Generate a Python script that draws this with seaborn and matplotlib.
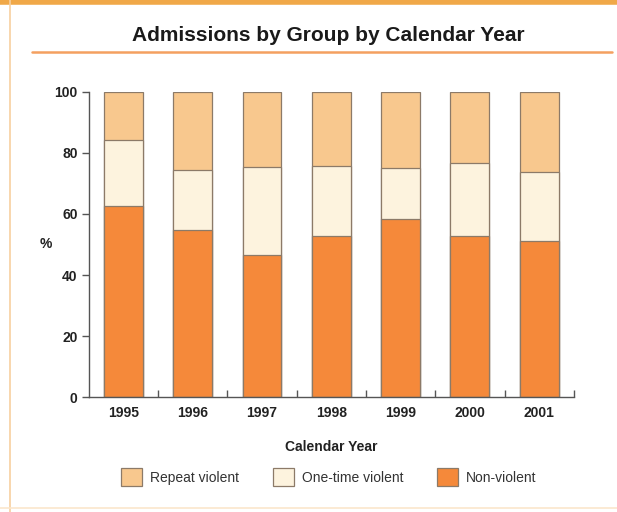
import matplotlib
matplotlib.use("Agg")
import matplotlib.pyplot as plt
import seaborn as sns
import pandas as pd
import numpy as np
from matplotlib.patches import Patch
from matplotlib.lines import Line2D

years = ["1995", "1996", "1997", "1998", "1999", "2000", "2001"]
non_violent = [62.7, 54.8, 46.6, 52.9, 58.3, 52.8, 51.2]
one_time_violent = [21.4, 19.5, 28.7, 22.8, 16.6, 23.8, 22.5]
repeat_violent = [15.9, 25.7, 24.7, 24.3, 25.1, 23.4, 26.3]
series_names = ["Repeat violent", "One-time violent", "Non-violent"]
y_ticks = [0, 20, 40, 60, 80, 100]

c_repeat = "#F8C88E"
c_one = "#FDF3DE"
c_non = "#F5893A"
edge = "#8C7A68"

sns.set_theme(style="white")
plt.rcParams['font.family'] = ['Liberation Sans', 'DejaVu Sans']

df = pd.DataFrame({
    "year": years,
    "non": non_violent,
    "one": one_time_violent,
    "rep": repeat_violent,
})
df["top_one"] = df["non"] + df["one"]
df["top_rep"] = df["top_one"] + df["rep"]

fig = plt.figure(figsize=(6.17, 5.12), dpi=100)
fig.patch.set_facecolor("white")
ax = fig.add_axes([0.144, 0.224, 0.786, 0.597])

bw = 0.56
sns.barplot(data=df, x="year", y="top_rep", order=years, color=c_repeat,
            width=bw, edgecolor=edge, linewidth=0.9, saturation=1, ax=ax)
sns.barplot(data=df, x="year", y="top_one", order=years, color=c_one,
            width=bw, edgecolor=edge, linewidth=0.9, saturation=1, ax=ax)
sns.barplot(data=df, x="year", y="non", order=years, color=c_non,
            width=bw, edgecolor=edge, linewidth=0.9, saturation=1, ax=ax)

ax.set_xlim(-0.5, 6.5)
ax.set_ylim(0, 100)
for s in ["top", "right"]:
    ax.spines[s].set_visible(False)
for s in ["left", "bottom"]:
    ax.spines[s].set_color("#555555")
    ax.spines[s].set_linewidth(1.0)

ax.set_yticks(y_ticks)
ax.set_yticklabels([str(v) for v in y_ticks], fontsize=10, fontweight="bold", color="#222222")
ax.tick_params(axis="y", which="major", left=True, direction="out", length=5, width=1,
               color="#555555", pad=3)

ax.set_xticks(range(len(years)))
ax.set_xticklabels(years, fontsize=10, fontweight="bold", color="#222222")
ax.tick_params(axis="x", which="major", bottom=True, length=0, pad=6)
ax.set_xticks(np.arange(0.5, 6.6, 1.0), minor=True)
ax.tick_params(axis="x", which="minor", bottom=True, direction="in", length=5, width=1,
               color="#555555")

ax.set_ylabel("%", rotation=0, fontsize=10, fontweight="bold", color="#222222", labelpad=6, va="center")
ax.set_xlabel("Calendar Year", fontsize=10, fontweight="bold", color="#222222", labelpad=15)
ax.grid(False)

fig.text(0.532, 0.93, "Admissions by Group by Calendar Year", ha="center", va="center",
         fontsize=15, fontweight="bold", color="#1a1a1a")

# decorative lines
fig.add_artist(Line2D([0.052, 0.992], [0.898, 0.898], color="#F4A060", lw=1.8, transform=fig.transFigure))
fig.add_artist(Line2D([0.0, 1.0], [0.996, 0.996], color="#F0A848", lw=4, transform=fig.transFigure))
fig.add_artist(Line2D([0.017, 0.017], [0.0, 1.0], color="#F7D0A0", lw=1.2, transform=fig.transFigure))
fig.add_artist(Line2D([0.0, 1.0], [0.008, 0.008], color="#FBE6CC", lw=1.2, transform=fig.transFigure))

handles = [Patch(facecolor=c_repeat, edgecolor=edge, linewidth=0.9),
           Patch(facecolor=c_one, edgecolor=edge, linewidth=0.9),
           Patch(facecolor=c_non, edgecolor=edge, linewidth=0.9)]
fig.legend(handles, series_names, loc="center", bbox_to_anchor=(0.533, 0.068), ncol=3,
           frameon=False, fontsize=10, handlelength=1.5, handleheight=1.6,
           handletextpad=0.6, columnspacing=2.4, labelcolor="#333333")

fig.savefig("out.png", dpi=100, facecolor="white")
